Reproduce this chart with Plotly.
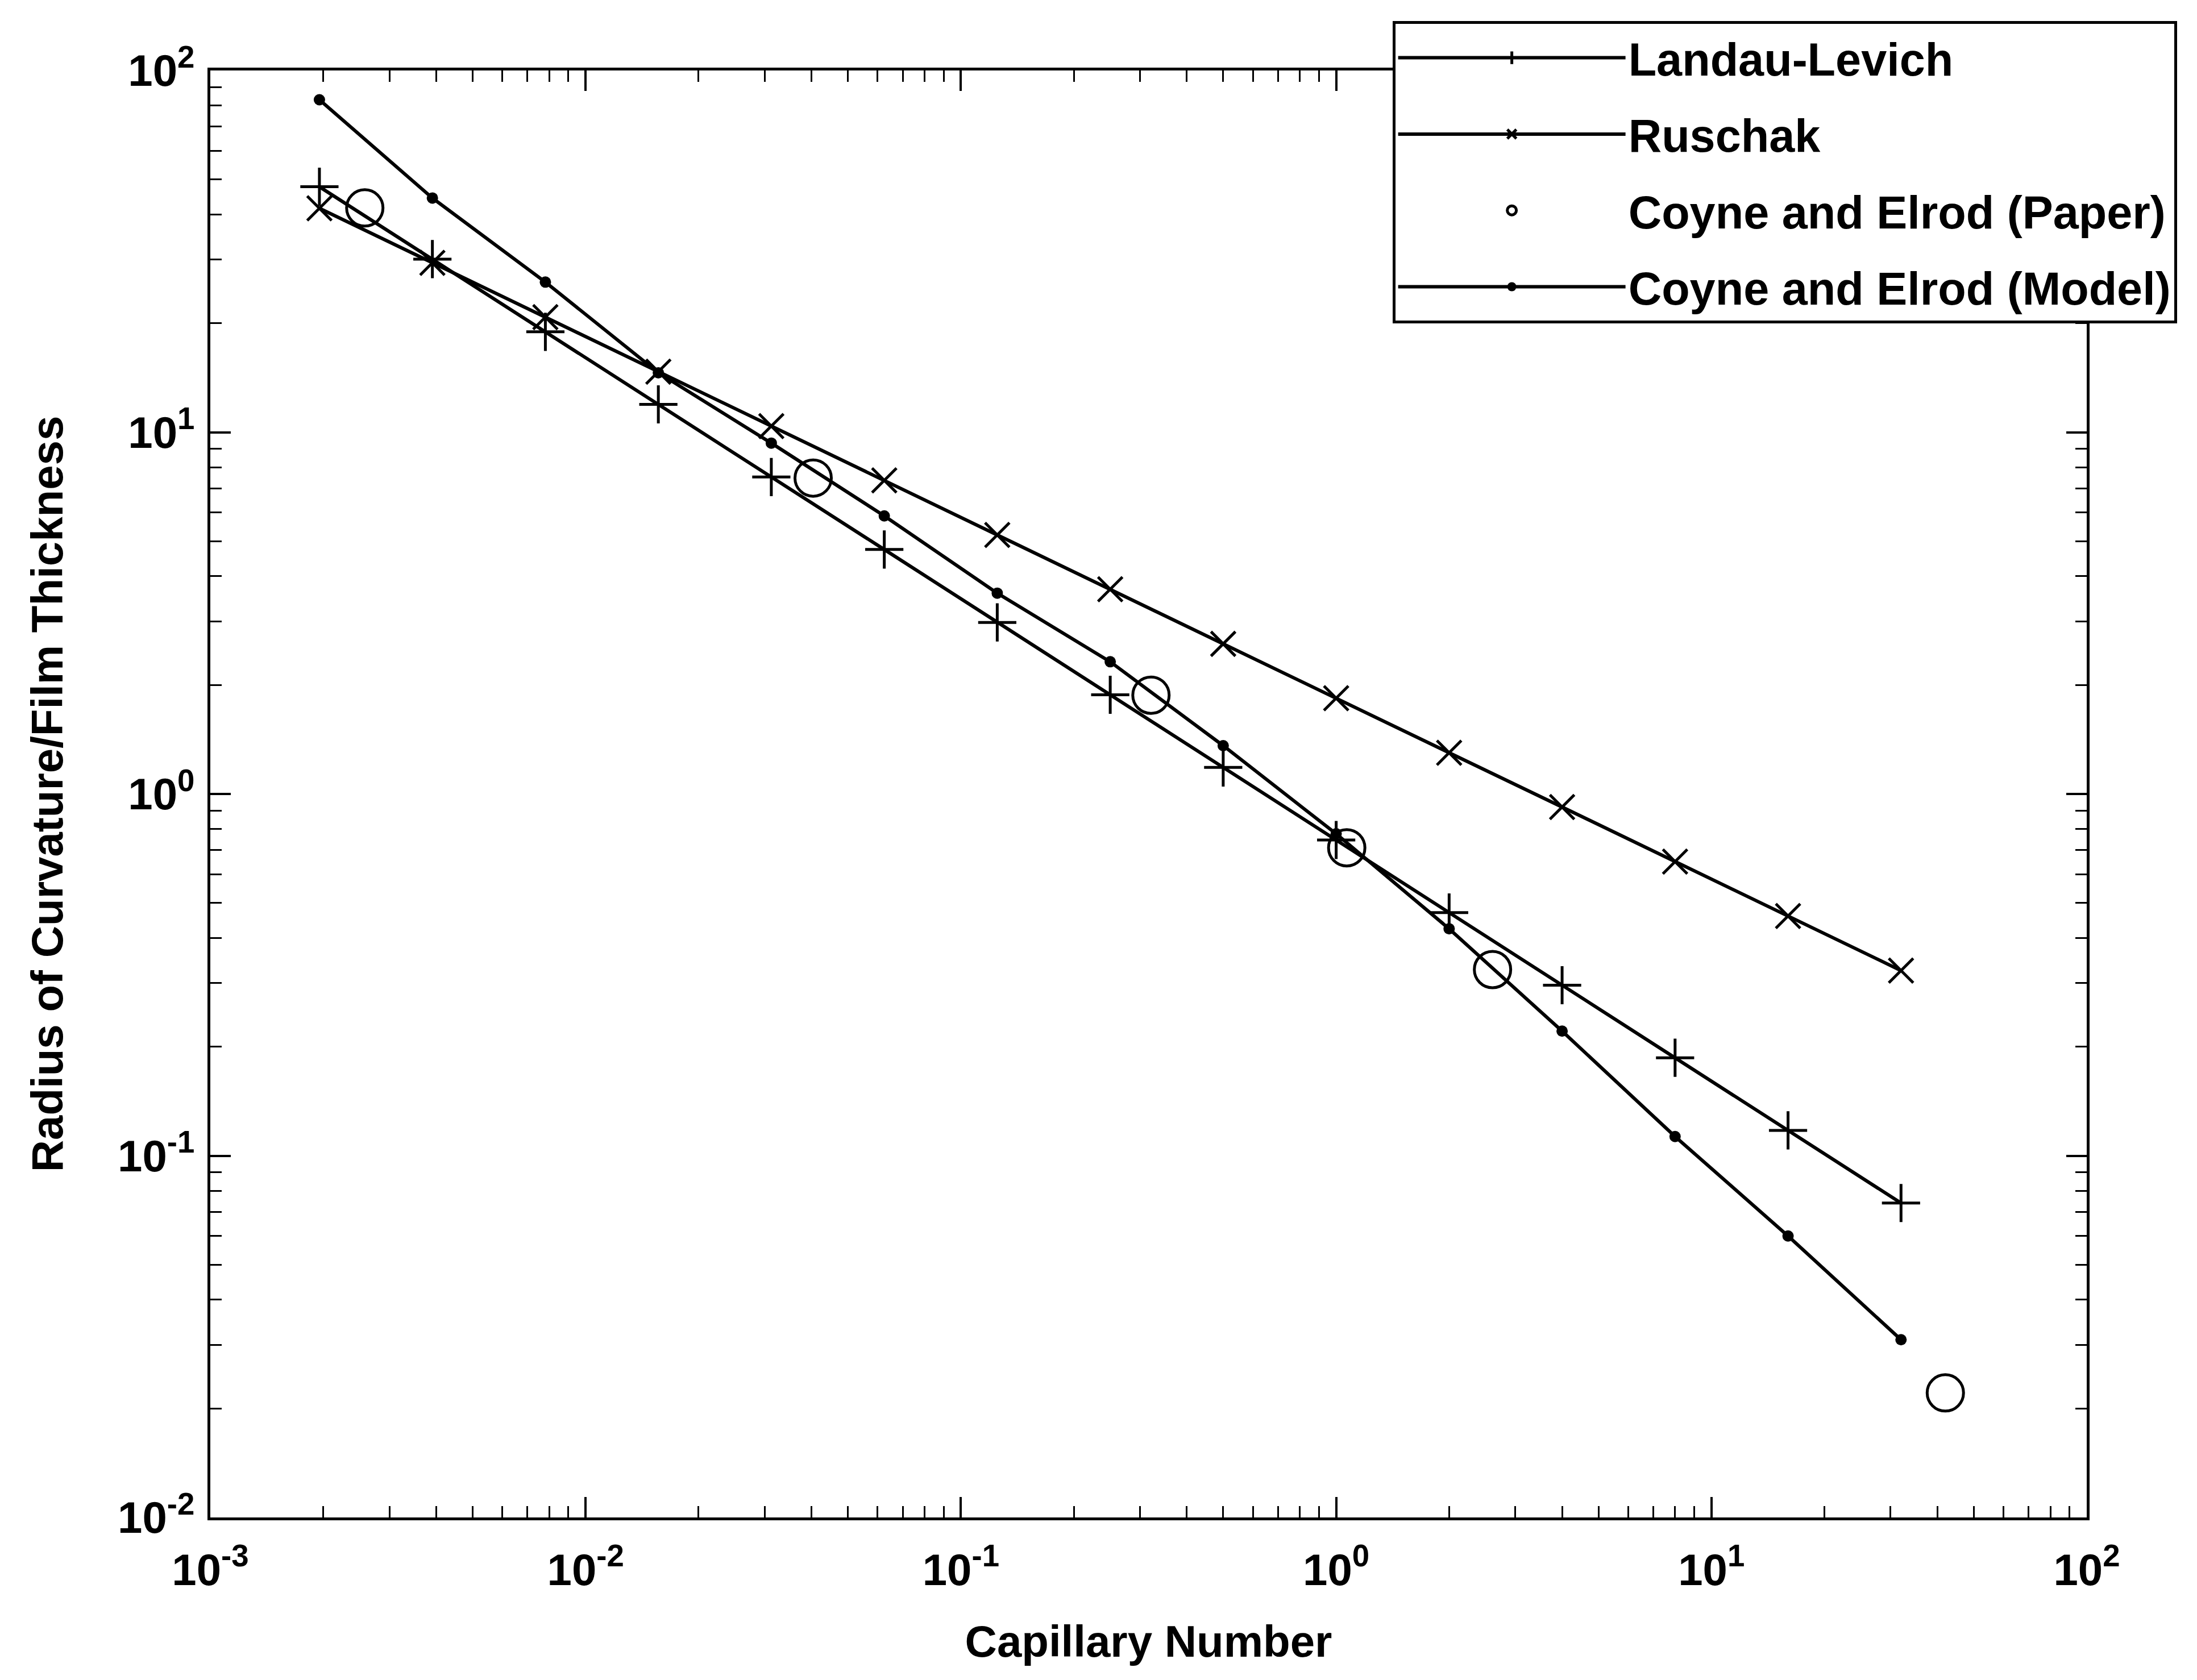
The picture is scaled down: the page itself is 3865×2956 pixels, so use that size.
import plotly.graph_objects as go

# Capillary numbers (2^-9 ... 2^5)
ca = [0.001953, 0.003906, 0.007813, 0.015625, 0.03125, 0.0625, 0.125, 0.25,
      0.5, 1.0, 2.0, 4.0, 8.0, 16.0, 32.0]

landau_levich = [47.7, 30.1, 18.95, 11.94, 7.52, 4.74, 2.98, 1.88, 1.184,
                 0.746, 0.47, 0.296, 0.1865, 0.1175, 0.074]

ruschak = [41.6, 29.4, 20.8, 14.7, 10.4, 7.36, 5.2, 3.68, 2.6, 1.84, 1.30,
           0.92, 0.65, 0.46, 0.325]

model = [83.0, 44.4, 26.0, 14.6, 9.33, 5.87, 3.59, 2.32, 1.36, 0.776, 0.424,
         0.221, 0.113, 0.060, 0.031]

paper_ca = [0.00258, 0.0404, 0.321, 1.067, 2.61, 42.0]
paper = [41.7, 7.47, 1.875, 0.71, 0.327, 0.0221]

x_tickvals = [1e-3, 1e-2, 1e-1, 1e0, 1e1, 1e2]
x_ticktext = ["10<sup>-3</sup>", "10<sup>-2</sup>", "10<sup>-1</sup>",
              "10<sup>0</sup>", "10<sup>1</sup>", "10<sup>2</sup>"]
y_tickvals = [1e-2, 1e-1, 1e0, 1e1, 1e2]
y_ticktext = ["10<sup>-2</sup>", "10<sup>-1</sup>", "10<sup>0</sup>",
              "10<sup>1</sup>", "10<sup>2</sup>"]

FONT = "Liberation Sans"
LW = 6

fig = go.Figure()
fig.add_trace(go.Scatter(
    x=ca, y=landau_levich, mode="lines+markers", name="Landau-Levich",
    legendgroup="a",
    line=dict(color="black", width=LW),
    marker=dict(symbol="cross-thin", size=48, color="black",
                line=dict(color="black", width=5))))
fig.add_trace(go.Scatter(
    x=ca, y=ruschak, mode="lines+markers", name="Ruschak", legendgroup="b",
    line=dict(color="black", width=LW),
    marker=dict(symbol="x-thin", size=43, color="black",
                line=dict(color="black", width=5))))
fig.add_trace(go.Scatter(
    x=paper_ca, y=paper, mode="markers", name="Coyne and Elrod (Paper)",
    legendgroup="c",
    marker=dict(symbol="circle-open", size=64, color="black",
                line=dict(color="black", width=5))))
fig.add_trace(go.Scatter(
    x=ca, y=model, mode="lines+markers", name="Coyne and Elrod (Model)",
    legendgroup="d",
    line=dict(color="black", width=LW),
    marker=dict(symbol="circle", size=20, color="black")))

minor_vals = [k * 10.0 ** e for e in range(-3, 2) for k in range(2, 10)]
minor_vals_y = [k * 10.0 ** e for e in range(-2, 2) for k in range(2, 10)]

axis_common = dict(
    type="log", showgrid=False, zeroline=False, showline=True,
    linecolor="black", linewidth=5, mirror="ticks", ticks="inside",
    ticklen=36, tickwidth=4, tickcolor="black",
    tickfont=dict(family=FONT, size=78, color="black", weight="bold"),
)

fig.update_xaxes(
    **axis_common, range=[-3, 2], tickmode="array", tickvals=x_tickvals,
    ticktext=x_ticktext, ticklabelstandoff=20,
    minor=dict(tickmode="array", tickvals=minor_vals, ticks="inside",
               ticklen=20, tickwidth=3, tickcolor="black"),
    title=dict(text="Capillary Number", standoff=57,
               font=dict(family=FONT, size=78, color="black", weight="bold")))
fig.update_yaxes(
    **axis_common, range=[-2, 2], tickmode="array", tickvals=y_tickvals,
    ticktext=y_ticktext, ticklabelstandoff=7,
    minor=dict(tickmode="array", tickvals=minor_vals_y, ticks="inside",
               ticklen=20, tickwidth=3, tickcolor="black"),
    title=dict(text="Radius of Curvature/Film Thickness", standoff=72,
               font=dict(family=FONT, size=78, color="black", weight="bold")))

fig.update_layout(
    width=3865, height=2956,
    paper_bgcolor="white", plot_bgcolor="white",
    margin=dict(l=362, r=202, t=116, b=294),
    font=dict(family=FONT, size=78, color="black"),
    legend=dict(
        x=0.630, y=1.034, xanchor="left", yanchor="top",
        bgcolor="white", bordercolor="black", borderwidth=5,
        font=dict(family=FONT, size=81, color="black", weight="bold"),
        itemwidth=400, tracegroupgap=26, itemsizing="trace",
    ),
    showlegend=True,
)

fig.write_html("out.html")
